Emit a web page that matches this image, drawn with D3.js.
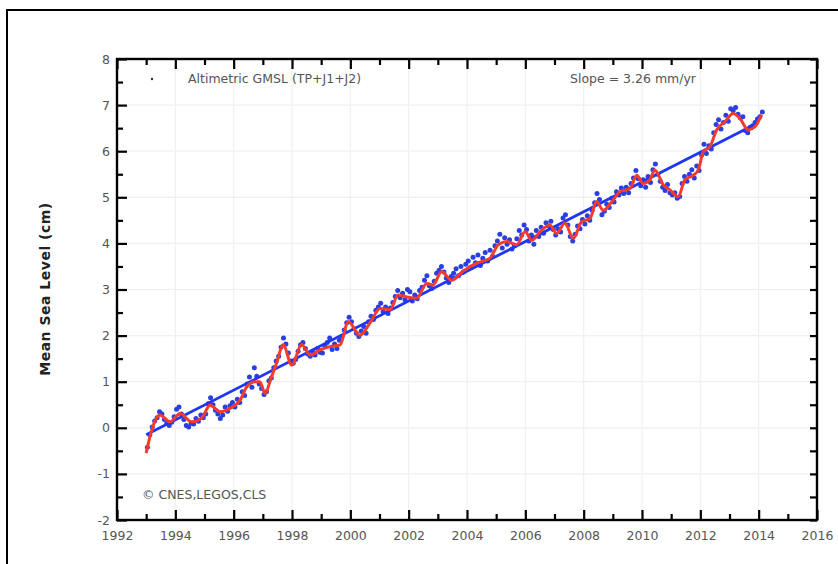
<!DOCTYPE html>
<html><head><meta charset="utf-8">
<script src="https://cdn.jsdelivr.net/npm/d3@7"></script>
<style>
html,body{margin:0;padding:0;background:#fff;}
svg{display:block;font-family:"DejaVu Sans",Verdana,sans-serif;}
</style></head>
<body>
<svg id="chart" width="838" height="564"></svg>
<script>
// ---------------- DATA ----------------
const xTickYears = [1992,1994,1996,1998,2000,2002,2004,2006,2008,2010,2012,2014,2016];
const xMinorYears = [1993,1995,1997,1999,2001,2003,2005,2007,2009,2011,2013,2015];
const yTickValues = [-2,-1,0,1,2,3,4,5,6,7,8];
const yMinorValues = [-1.5,-0.5,0.5,1.5,2.5,3.5,4.5,5.5,6.5,7.5];

const dotFirstYear = 1993 + 0.5/12;
const dotsPerYear = 12;
const gmslDots = [
  -0.42,-0.15,0.02,0.15,0.22,0.35,0.30,0.18,0.10,0.05,0.12,0.24,   // 1993
  0.40,0.45,0.30,0.18,0.05,0.02,0.10,0.08,0.20,0.14,0.28,0.22,     // 1994
  0.30,0.52,0.65,0.50,0.38,0.30,0.20,0.28,0.45,0.36,0.48,0.55,     // 1995
  0.45,0.62,0.55,0.78,0.70,0.95,1.10,0.88,1.30,1.12,0.95,0.85,     // 1996
  0.72,0.78,1.02,1.08,1.30,1.45,1.55,1.75,1.95,1.82,1.62,1.45,     // 1997
  1.40,1.48,1.66,1.80,1.85,1.72,1.60,1.55,1.65,1.58,1.72,1.64,     // 1998
  1.62,1.78,1.85,1.95,1.70,1.82,1.72,1.90,1.98,2.12,2.28,2.40,     // 1999
  2.30,2.15,2.05,1.98,2.10,2.20,2.05,2.30,2.42,2.35,2.55,2.62,     // 2000
  2.70,2.52,2.62,2.48,2.60,2.72,2.85,2.98,2.82,2.92,2.78,3.00,     // 2001
  2.95,2.75,2.88,2.80,2.98,3.05,3.20,3.30,3.08,3.02,3.18,3.35,     // 2002
  3.42,3.50,3.38,3.25,3.15,3.28,3.35,3.45,3.30,3.50,3.38,3.55,     // 2003
  3.62,3.48,3.70,3.58,3.75,3.52,3.68,3.80,3.62,3.85,3.72,3.95,     // 2004
  4.05,4.20,3.90,4.12,3.98,4.08,3.88,3.95,4.10,4.28,4.18,4.40,     // 2005
  4.30,4.05,4.18,3.98,4.28,4.15,4.35,4.22,4.45,4.38,4.48,4.30,     // 2006
  4.18,4.32,4.25,4.55,4.62,4.40,4.15,4.05,4.20,4.38,4.32,4.52,     // 2007
  4.42,4.60,4.50,4.72,4.88,5.08,4.95,4.62,4.70,4.85,4.78,4.98,     // 2008
  4.90,5.12,5.05,5.20,5.08,5.22,5.10,5.30,5.42,5.58,5.40,5.25,     // 2009
  5.38,5.22,5.45,5.32,5.60,5.72,5.50,5.35,5.22,5.15,5.28,5.10,     // 2010
  5.05,5.10,4.98,5.02,5.30,5.45,5.35,5.50,5.60,5.42,5.68,5.58,     // 2011
  5.92,6.15,5.95,6.12,6.05,6.40,6.58,6.68,6.48,6.62,6.78,6.65,     // 2012
  6.92,6.88,6.95,6.80,6.72,6.75,6.45,6.40,6.52,6.55,6.62,6.70,     // 2013
  6.75,6.85                                                        // 2014
];

// Smoothed (60-day filtered) GMSL, red curve
const smoothYears = [1993.00,1993.19,1993.47,1993.82,1994.16,1994.56,1994.90,1995.19,1995.53,1995.87,
  1996.22,1996.45,1996.73,1996.90,1997.07,1997.30,1997.47,1997.70,1997.99,1998.33,
  1998.62,1998.96,1999.30,1999.65,1999.93,2000.33,2000.67,2001.02,2001.36,2001.64,
  2001.93,2002.27,2002.62,2002.84,2003.13,2003.47,2003.87,2004.33,2004.79,2005.07,
  2005.36,2005.70,2005.99,2006.22,2006.50,2006.84,2007.07,2007.36,2007.64,2007.93,
  2008.22,2008.44,2008.67,2009.01,2009.24,2009.59,2009.82,2010.04,2010.27,2010.44,
  2010.73,2010.96,2011.24,2011.47,2011.76,2011.93,2012.10,2012.33,2012.56,2012.84,
  2013.13,2013.36,2013.64,2013.87,2014.10];
const smoothValues = [-0.55,-0.05,0.28,0.13,0.31,0.13,0.21,0.49,0.35,0.42,
  0.60,0.89,1.00,1.00,0.75,1.11,1.40,1.80,1.36,1.80,
  1.58,1.69,1.76,1.80,2.30,2.01,2.27,2.59,2.56,2.88,
  2.84,2.81,3.13,3.10,3.39,3.20,3.40,3.57,3.68,3.97,
  4.04,3.97,4.25,4.07,4.25,4.40,4.22,4.44,4.11,4.47,
  4.54,4.91,4.72,4.94,5.12,5.19,5.48,5.30,5.38,5.59,
  5.27,5.16,5.01,5.38,5.48,5.59,5.99,6.10,6.46,6.64,
  6.82,6.71,6.46,6.53,6.79];

// Linear trend (slope 3.26 mm/yr)
const trendYears = [1993.0, 2014.0];
const trendValues = [-0.15, 6.62];

const legendLabel = "Altimetric GMSL (TP+J1+J2)";
const slopeLabel = "Slope = 3.26 mm/yr";
const creditLabel = "\u00A9 CNES,LEGOS,CLS";
const yTitle = "Mean Sea Level (cm)";

// ---------------- DRAW ----------------
const svg = d3.select("#chart");
const L = 117, R = 817, T = 59, B = 520;
const x = d3.scaleLinear().domain([1992, 2016]).range([L, R]);
const y = d3.scaleLinear().domain([-2, 8]).range([B, T]);
const plainNum = d => String(d);

// outer frame
svg.append("rect").attr("x", 7).attr("y", 10).attr("width", 900).attr("height", 600)
  .attr("fill", "none").attr("stroke", "#000").attr("stroke-width", 2);

// faint grid
const grid = svg.append("g").attr("stroke", "#f0f0f0").attr("stroke-width", 1.2);
grid.selectAll("line.h").data(yTickValues.slice(1, -1)).join("line")
  .attr("x1", L).attr("x2", R).attr("y1", d => y(d)).attr("y2", d => y(d));
grid.selectAll("line.v").data(xTickYears.slice(1, -1)).join("line")
  .attr("y1", T).attr("y2", B).attr("x1", d => x(d)).attr("x2", d => x(d));

// dots
svg.append("g").attr("fill", "#2a3fe0")
  .selectAll("circle").data(gmslDots).join("circle")
  .attr("cx", (d, i) => x(dotFirstYear + i / dotsPerYear))
  .attr("cy", d => y(d))
  .attr("r", 2.5);

// trend line
const trend = trendYears.map((t, i) => [t, trendValues[i]]);
svg.append("path").datum(trend)
  .attr("d", d3.line().x(d => x(d[0])).y(d => y(d[1])))
  .attr("fill", "none").attr("stroke", "#1f36f5").attr("stroke-width", 2.8);

// smoothed line
const smooth = smoothYears.map((t, i) => [t, smoothValues[i]]);
svg.append("path").datum(smooth)
  .attr("d", d3.line().curve(d3.curveMonotoneX).x(d => x(d[0])).y(d => y(d[1])))
  .attr("fill", "none").attr("stroke", "#f73a2c").attr("stroke-width", 3)
  .attr("stroke-linejoin", "round");

// axes
function styleAxis(g, showText) {
  g.select(".domain").remove();
  g.selectAll(".tick line").attr("stroke", "#000").attr("stroke-width", 2.2);
  g.selectAll(".tick text").attr("fill", "#555").attr("font-size", 12.5)
   .attr("font-family", "DejaVu Sans, Verdana, sans-serif");
  if (!showText) g.selectAll(".tick text").remove();
}
svg.append("g").attr("transform", `translate(0,${B})`)
  .call(d3.axisBottom(x).tickValues(xTickYears).tickFormat(plainNum).tickSize(-10).tickPadding(11))
  .call(g => styleAxis(g, true));
svg.append("g").attr("transform", `translate(0,${B})`)
  .call(d3.axisBottom(x).tickValues(xMinorYears).tickSize(-6))
  .call(g => styleAxis(g, false));
svg.append("g").attr("transform", `translate(0,${T})`)
  .call(d3.axisTop(x).tickValues(xTickYears).tickSize(-10))
  .call(g => styleAxis(g, false));
svg.append("g").attr("transform", `translate(0,${T})`)
  .call(d3.axisTop(x).tickValues(xMinorYears).tickSize(-6))
  .call(g => styleAxis(g, false));
svg.append("g").attr("transform", `translate(${L},0)`)
  .call(d3.axisLeft(y).tickValues(yTickValues).tickFormat(plainNum).tickSize(-10).tickPadding(7))
  .call(g => styleAxis(g, true));
svg.append("g").attr("transform", `translate(${L},0)`)
  .call(d3.axisLeft(y).tickValues(yMinorValues).tickSize(-6))
  .call(g => styleAxis(g, false));
svg.append("g").attr("transform", `translate(${R},0)`)
  .call(d3.axisRight(y).tickValues(yTickValues.concat(yMinorValues)).tickSize(-7))
  .call(g => styleAxis(g, false));

// frame of plot
svg.append("rect").attr("x", L).attr("y", T).attr("width", R - L).attr("height", B - T)
  .attr("fill", "none").attr("stroke", "#000").attr("stroke-width", 2.4);

// texts
svg.append("circle").attr("cx", 152).attr("cy", 79).attr("r", 1.2).attr("fill", "#333");
svg.append("text").attr("x", 188).attr("y", 83).attr("font-size", 12.5).attr("fill", "#555").text(legendLabel);
svg.append("text").attr("x", 570).attr("y", 83).attr("font-size", 12.5).attr("fill", "#555").text(slopeLabel);
svg.append("text").attr("x", 142).attr("y", 499).attr("font-size", 12.5).attr("fill", "#555").text(creditLabel);
svg.append("text").attr("transform", "translate(50,289) rotate(-90)")
  .attr("text-anchor", "middle").attr("font-size", 14).attr("letter-spacing", 0.5)
  .attr("font-weight", "bold").attr("fill", "#222")
  .text(yTitle);
</script>
</body></html>
